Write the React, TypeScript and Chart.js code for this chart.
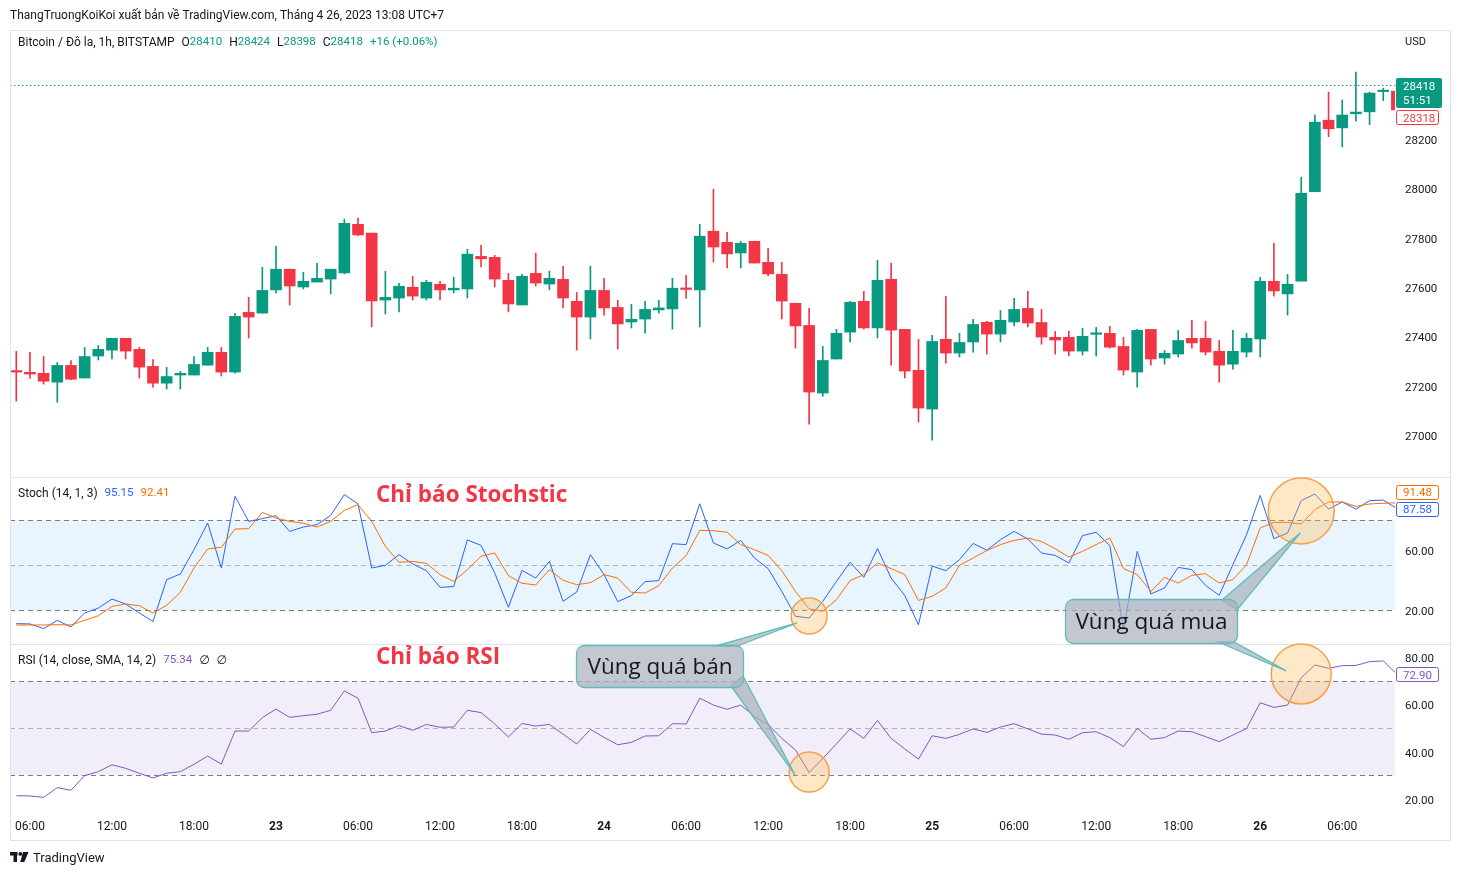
import React, { useEffect, useRef } from 'react';
import { Chart, registerables } from 'chart.js';

Chart.register(...registerables);

// ---------- DATA ----------
const openPrices = [
  27260, 27254, 27250, 27214, 27282, 27231, 27320, 27344, 27392, 27347,
  27278, 27210, 27243, 27243, 27283, 27335, 27255, 27497, 27494, 27588,
  27672, 27600, 27620, 27632, 27657, 27854, 27818, 27547, 27555, 27599,
  27555, 27611, 27588, 27592, 27724, 27720, 27627, 27527, 27655, 27612,
  27631, 27542, 27478, 27586, 27517, 27458, 27470, 27507, 27511, 27595,
  27588, 27826, 27781, 27738, 27785, 27700, 27651, 27534, 27444, 27170,
  27308, 27417, 27542, 27434, 27631, 27428, 27262, 27105, 27388, 27332,
  27377, 27457, 27409, 27458, 27513, 27456, 27396, 27396, 27340, 27408,
  27412, 27359, 27255, 27428, 27312, 27328, 27392, 27392, 27339, 27287,
  27336, 27389, 27623, 27572, 27624, 27986, 28276, 28245, 28302, 28310,
  28392, 28394,
];
const highPrices = [
  27339, 27335, 27318, 27294, 27302, 27355, 27363, 27392, 27392, 27355,
  27306, 27274, 27258, 27318, 27355, 27355, 27493, 27558, 27680, 27765,
  27672, 27659, 27696, 27672, 27875, 27879, 27818, 27664, 27615, 27643,
  27627, 27623, 27639, 27753, 27769, 27728, 27655, 27651, 27737, 27664,
  27684, 27578, 27684, 27635, 27546, 27530, 27542, 27546, 27635, 27647,
  27854, 27996, 27822, 27785, 27786, 27757, 27700, 27534, 27513, 27359,
  27428, 27542, 27582, 27708, 27696, 27428, 27388, 27404, 27562, 27412,
  27469, 27461, 27505, 27554, 27582, 27509, 27420, 27420, 27432, 27436,
  27440, 27396, 27428, 27428, 27343, 27424, 27465, 27461, 27383, 27424,
  27412, 27639, 27777, 27651, 28045, 28297, 28390, 28358, 28471, 28390,
  28406, 28400,
];
const lowPrices = [
  27137, 27230, 27206, 27133, 27224, 27231, 27304, 27308, 27308, 27231,
  27194, 27186, 27186, 27243, 27283, 27239, 27251, 27393, 27494, 27576,
  27527, 27592, 27620, 27572, 27653, 27807, 27438, 27490, 27499, 27547,
  27547, 27547, 27576, 27555, 27681, 27600, 27499, 27527, 27604, 27588,
  27515, 27344, 27389, 27486, 27348, 27434, 27413, 27494, 27429, 27555,
  27438, 27701, 27677, 27677, 27697, 27645, 27470, 27352, 27044, 27157,
  27308, 27377, 27429, 27393, 27283, 27231, 27052, 26979, 27291, 27316,
  27336, 27328, 27377, 27442, 27438, 27368, 27328, 27320, 27324, 27320,
  27352, 27243, 27194, 27283, 27287, 27316, 27352, 27324, 27214, 27267,
  27316, 27316, 27563, 27486, 27624, 27986, 28209, 28168, 28272, 28258,
  28355, 28310,
];
const closePrices = [
  27255, 27247, 27218, 27282, 27226, 27318, 27347, 27392, 27340, 27275,
  27210, 27237, 27250, 27286, 27335, 27255, 27481, 27478, 27586, 27672,
  27604, 27623, 27635, 27672, 27858, 27811, 27543, 27558, 27603, 27563,
  27619, 27588, 27595, 27733, 27714, 27632, 27531, 27643, 27616, 27635,
  27555, 27478, 27586, 27515, 27450, 27469, 27509, 27515, 27595, 27590,
  27806, 27762, 27734, 27777, 27697, 27653, 27543, 27442, 27174, 27302,
  27412, 27538, 27434, 27627, 27425, 27259, 27109, 27379, 27332, 27375,
  27448, 27409, 27465, 27509, 27454, 27397, 27385, 27340, 27400, 27411,
  27356, 27263, 27424, 27308, 27331, 27383, 27373, 27336, 27283, 27339,
  27392, 27623, 27584, 27611, 27980, 28268, 28241, 28297, 28309, 28386,
  28394, 28318,
];
const stochK = [
  10.9, 10.7, 7.6, 13.1, 8.7, 18.0, 21.3, 27.3, 24.0, 18.0,
  12.4, 40.2, 44.0, 60.2, 78.0, 48.0, 95.8, 79.1, 80.9, 82.9,
  72.4, 75.3, 76.9, 83.1, 96.9, 90.7, 48.0, 49.8, 56.9, 50.7,
  46.2, 35.1, 35.6, 66.7, 63.1, 44.7, 21.8, 46.4, 41.3, 52.4,
  25.8, 32.0, 56.9, 43.6, 25.6, 29.6, 38.9, 39.6, 64.2, 63.6,
  90.8, 64.7, 60.7, 66.4, 54.7, 47.6, 32.4, 15.8, 14.7, 25.8,
  39.1, 51.8, 41.8, 60.9, 41.3, 29.6, 10.2, 49.3, 46.2, 53.6,
  64.4, 59.8, 66.9, 72.4, 67.3, 58.0, 56.4, 51.3, 69.6, 71.8,
  62.9, 6.9, 59.1, 30.7, 34.7, 48.4, 46.9, 36.4, 29.8, 50.2,
  70.2, 96.4, 67.6, 71.3, 92.9, 97.3, 87.3, 92.0, 87.3, 92.9,
  93.3, 87.58,
];
const stochD = [
  10.0, 10.0, 10.0, 10.2, 10.0, 13.1, 16.2, 22.4, 24.0, 22.9,
  18.0, 23.1, 31.8, 48.0, 60.7, 61.8, 74.0, 74.2, 85.1, 81.3,
  79.1, 77.8, 75.3, 79.1, 86.4, 90.2, 79.1, 62.4, 51.8, 52.4,
  51.1, 43.6, 39.1, 46.9, 55.8, 58.0, 42.9, 37.8, 36.7, 46.9,
  39.8, 36.9, 38.2, 43.6, 41.3, 31.8, 31.3, 36.2, 48.0, 56.2,
  73.1, 72.9, 71.8, 63.6, 60.2, 56.4, 46.2, 32.4, 20.7, 19.1,
  26.9, 39.6, 43.6, 51.3, 47.6, 43.6, 26.4, 29.1, 34.7, 49.8,
  54.7, 59.6, 63.6, 66.4, 68.0, 65.6, 60.9, 55.3, 59.1, 63.6,
  68.0, 47.6, 43.6, 32.4, 41.8, 38.0, 43.1, 44.2, 38.0, 40.2,
  50.2, 74.7, 78.4, 78.4, 77.3, 86.9, 92.0, 92.0, 89.1, 90.7,
  91.1, 91.48,
];
const rsiValues = [
  21.4, 21.3, 20.7, 24.8, 23.7, 29.9, 31.6, 34.5, 33.0, 30.9,
  28.9, 30.9, 31.6, 34.7, 38.2, 34.8, 48.8, 48.8, 54.5, 58.1,
  54.6, 55.3, 55.9, 57.6, 65.8, 62.7, 48.1, 48.8, 51.1, 49.1,
  51.6, 50.4, 50.5, 57.6, 56.6, 51.8, 46.3, 52.0, 50.9, 51.6,
  47.5, 43.3, 49.5, 46.1, 43.0, 44.0, 46.7, 46.8, 51.9, 51.8,
  62.7, 59.8, 58.0, 59.8, 54.9, 51.6, 45.7, 40.8, 31.2, 37.2,
  43.4, 49.7, 45.7, 53.3, 45.7, 41.2, 36.9, 46.8, 45.7, 47.4,
  49.7, 48.2, 50.5, 51.9, 49.7, 47.5, 47.1, 45.3, 48.1, 48.5,
  46.0, 42.2, 49.9, 45.3, 46.0, 48.8, 48.5, 46.4, 44.3, 47.1,
  49.9, 60.8, 58.8, 59.8, 71.4, 76.8, 75.4, 76.5, 76.6, 78.2,
  78.5, 72.9,
];

const timeTickIndex = [1, 7, 13, 19, 25, 31, 37, 43, 49, 55, 61, 67, 73, 79, 85, 91, 97];
const timeTickLabels = ['06:00', '12:00', '18:00', '23', '06:00', '12:00', '18:00', '24', '06:00', '12:00', '18:00', '25', '06:00', '12:00', '18:00', '26', '06:00'];
const dayLabels = ['23', '24', '25', '26'];
const priceTicks = [27000, 27200, 27400, 27600, 27800, 28000, 28200];
const stochTicks = [20, 60];
const rsiTicks = [20, 40, 60, 80];
const stochLevels = [80, 50, 20];
const rsiLevels = [70, 50, 30];

const lastPrice = 28418;
const prevPrice = 28318;
const countdown = '51:51';
const stochLastK = 87.58;
const stochLastD = 91.48;
const rsiLast = 72.9;

const publisherText = 'ThangTruongKoiKoi xuất bản về TradingView.com, Tháng 4 26, 2023 13:08 UTC+7';
const symbolText = 'Bitcoin / Đô la, 1h, BITSTAMP';
const ohlcLetters = ['O', 'H', 'L', 'C'];
const ohlcValues = ['28410', '28424', '28398', '28418'];
const changeText = '+16 (+0.06%)';
const stochTitle = 'Stoch (14, 1, 3)';
const stochHeaderValues = ['95.15', '92.41'];
const rsiTitle = 'RSI (14, close, SMA, 14, 2)';
const rsiHeaderValue = '75.34';
const stochCaption = 'Chỉ báo Stochstic';
const rsiCaption = 'Chỉ báo RSI';
const oversoldText = 'Vùng quá bán';
const overboughtText = 'Vùng quá mua';

// annotation anchors (data index, indicator value)
const markerIndex = [58, 58, 94, 94];
const markerValue = [16, 31.4, 86, 73];

// ---------- STYLE ----------
const UP = '#089981';
const DOWN = '#f23645';
const TEXT = '#131722';
const BLUE = '#2962ff';
const ORANGE = '#ff6d00';
const PURPLE = '#7e57c2';
const BORDER = '#e0e3eb';
const UI = 'Roboto, "Noto Sans", "DejaVu Sans", sans-serif';
const F12 = `12px ${UI}`;
const FNUM = `11.5px ${UI}`;

function drawRow(ctx: any, x: number, y: number, parts: any[], font: string) {
  ctx.textBaseline = 'middle';
  ctx.textAlign = 'left';
  let cx = x;
  for (const p of parts) {
    cx += p.gap || 0;
    ctx.font = p.font || font;
    ctx.fillStyle = p.color;
    ctx.fillText(p.text, cx, y);
    cx += ctx.measureText(p.text).width;
  }
}

function axisLabel(ctx: any, text: string, y: number, color: string, h = 14) {
  ctx.save();
  ctx.beginPath();
  ctx.roundRect(1396.5, Math.round(y - h / 2) + 0.5, 42, h, 2);
  ctx.fillStyle = '#ffffff';
  ctx.fill();
  ctx.strokeStyle = color;
  ctx.lineWidth = 1;
  ctx.stroke();
  ctx.fillStyle = color;
  ctx.font = FNUM;
  ctx.textBaseline = 'middle';
  ctx.textAlign = 'left';
  ctx.fillText(text, 1403, y + 1.5);
  ctx.restore();
}

function drawCallout(ctx: any, box: any, text: string, pointers: any[]) {
  const fill = 'rgba(172,178,188,0.72)';
  const stroke = '#5fbcbc';
  ctx.save();
  ctx.lineWidth = 1.3;
  for (const p of pointers) {
    ctx.beginPath();
    ctx.moveTo(p.a[0], p.a[1]);
    ctx.lineTo(p.tip[0], p.tip[1]);
    ctx.lineTo(p.b[0], p.b[1]);
    ctx.closePath();
    ctx.fillStyle = fill;
    ctx.fill();
    ctx.strokeStyle = stroke;
    ctx.stroke();
  }
  ctx.beginPath();
  ctx.roundRect(box.x, box.y, box.w, box.h, 8);
  ctx.fillStyle = fill;
  ctx.fill();
  ctx.strokeStyle = stroke;
  ctx.stroke();
  ctx.fillStyle = TEXT;
  ctx.font = `22.5px "Open Sans", ${UI}`;
  ctx.textAlign = 'center';
  ctx.textBaseline = 'middle';
  ctx.fillText(text, box.x + box.w / 2, box.y + box.h / 2 + 1);
  ctx.restore();
}

const panesPlugin = {
  id: 'panes',
  beforeDatasetsDraw(chart: any) {
    const { ctx, chartArea, scales } = chart;
    const L = chartArea.left;
    const W = chartArea.right - chartArea.left;
    const ys = scales.yStoch;
    const yr = scales.yRsi;
    const yp = scales.yPrice;
    ctx.save();
    ctx.fillStyle = 'rgba(33,150,243,0.1)';
    const s1 = ys.getPixelForValue(stochLevels[0]);
    const s2 = ys.getPixelForValue(stochLevels[2]);
    ctx.fillRect(L, s1, W, s2 - s1);
    ctx.fillStyle = 'rgba(126,87,194,0.1)';
    const r1 = yr.getPixelForValue(rsiLevels[0]);
    const r2 = yr.getPixelForValue(rsiLevels[2]);
    ctx.fillRect(L, r1, W, r2 - r1);
    ctx.lineWidth = 1;
    ctx.setLineDash([5, 4]);
    const levels = [
      [ys, stochLevels], [yr, rsiLevels],
    ];
    for (const [sc, lv] of levels as any) {
      lv.forEach((v: number, k: number) => {
        const y = Math.round(sc.getPixelForValue(v)) + 0.5;
        ctx.strokeStyle = k === 1 ? 'rgba(120,123,134,0.55)' : '#787b86';
        ctx.beginPath();
        ctx.moveTo(L, y);
        ctx.lineTo(L + W, y);
        ctx.stroke();
      });
    }
    ctx.setLineDash([1.5, 2.5]);
    ctx.strokeStyle = UP;
    const py = Math.round(yp.getPixelForValue(lastPrice)) + 0.5;
    ctx.beginPath();
    ctx.moveTo(L, py);
    ctx.lineTo(L + W, py);
    ctx.stroke();
    ctx.restore();
  },
  afterDraw(chart: any) {
    const { ctx, scales } = chart;
    const xs = scales.x;
    const ys = scales.yStoch;
    const yr = scales.yRsi;
    const yp = scales.yPrice;
    ctx.save();

    // frame and pane separators
    ctx.strokeStyle = BORDER;
    ctx.lineWidth = 1;
    ctx.setLineDash([]);
    ctx.strokeRect(10.5, 30.5, 1440, 810);
    for (const y of [ys.top, yr.top]) {
      const yy = Math.round(y) + 0.5;
      ctx.beginPath();
      ctx.moveTo(10, yy);
      ctx.lineTo(1450, yy);
      ctx.stroke();
    }

    drawRow(ctx, 10, 15.5, [{ text: publisherText, color: TEXT }], F12);

    const hdr: any[] = [{ text: symbolText, color: TEXT }];
    ohlcLetters.forEach((l, k) => {
      hdr.push({ text: l, color: TEXT, gap: 7 });
      hdr.push({ text: ohlcValues[k], color: UP, font: FNUM });
    });
    hdr.push({ text: changeText, color: UP, gap: 7, font: FNUM });
    drawRow(ctx, 18, 42.5, hdr, F12);
    drawRow(ctx, 1405, 42, [{ text: 'USD', color: TEXT }], `11px ${UI}`);

    drawRow(ctx, 18, 493.5, [
      { text: stochTitle, color: TEXT },
      { text: stochHeaderValues[0], color: BLUE, gap: 7, font: FNUM },
      { text: stochHeaderValues[1], color: ORANGE, gap: 7, font: FNUM },
    ], F12);
    drawRow(ctx, 18, 660.5, [
      { text: rsiTitle, color: TEXT },
      { text: rsiHeaderValue, color: PURPLE, gap: 7, font: FNUM },
      { text: '∅', color: TEXT, gap: 7 },
      { text: '∅', color: TEXT, gap: 7 },
    ], F12);

    drawRow(ctx, 376, 496, [{ text: stochCaption, color: DOWN }], `bold 22.5px "Open Sans", ${UI}`);
    drawRow(ctx, 376, 658, [{ text: rsiCaption, color: DOWN }], `bold 22.5px "Open Sans", ${UI}`);

    // axis value labels
    const pY = yp.getPixelForValue(lastPrice);
    ctx.beginPath();
    ctx.roundRect(1396, Math.round(pY - 7), 46, 30, 2);
    ctx.fillStyle = UP;
    ctx.fill();
    ctx.fillStyle = '#ffffff';
    ctx.font = FNUM;
    ctx.textBaseline = 'middle';
    ctx.textAlign = 'left';
    ctx.fillText(String(lastPrice), 1403, pY + 2);
    ctx.fillText(countdown, 1403, pY + 16);
    axisLabel(ctx, String(prevPrice), pY + 32, DOWN);

    const kY = ys.getPixelForValue(stochLastK);
    axisLabel(ctx, stochLastK.toFixed(2), kY, BLUE);
    axisLabel(ctx, stochLastD.toFixed(2), kY - 17, ORANGE);
    axisLabel(ctx, rsiLast.toFixed(2), yr.getPixelForValue(rsiLast), PURPLE);

    // marker circles
    const panes = [ys, yr, ys, yr];
    const radii = [18, 20, 33, 30];
    const centers = markerIndex.map((i, k) => [xs.getPixelForValue(i), panes[k].getPixelForValue(markerValue[k])]);
    centers.forEach((c, k) => {
      ctx.beginPath();
      ctx.arc(c[0], c[1], radii[k], 0, Math.PI * 2);
      ctx.fillStyle = 'rgba(255,183,77,0.32)';
      ctx.fill();
      ctx.strokeStyle = '#f7a04b';
      ctx.lineWidth = 1.5;
      ctx.stroke();
    });

    // callouts
    const [c0, c1, c2, c3] = centers;
    drawCallout(ctx, { x: 576.5, y: 645.5, w: 167, h: 42 }, oversoldText, [
      { a: [716, 646], b: [737, 646], tip: [c0[0] - 12, c0[1] + 7] },
      { a: [731, 686], b: [743, 676], tip: [c1[0] - 14, c1[1] + 3] },
    ]);
    drawCallout(ctx, { x: 1065.5, y: 599.5, w: 172, h: 44 }, overboughtText, [
      { a: [1222, 600], b: [1237, 610], tip: [c2[0] - 1, c2[1] + 22] },
      { a: [1218, 642], b: [1234, 642], tip: [c3[0] - 15, c3[1] - 3] },
    ]);

    // TradingView logo + text
    ctx.fillStyle = TEXT;
    ctx.fillRect(10, 852, 7.5, 3.5);
    ctx.fillRect(13.5, 852, 3.5, 10);
    ctx.beginPath();
    ctx.arc(20.3, 853.9, 1.9, 0, Math.PI * 2);
    ctx.fill();
    ctx.beginPath();
    ctx.moveTo(23, 852);
    ctx.lineTo(28.5, 852);
    ctx.lineTo(24.3, 862);
    ctx.lineTo(20.3, 862);
    ctx.closePath();
    ctx.fill();
    drawRow(ctx, 33, 858.5, [{ text: 'TradingView', color: TEXT }], `13px ${UI}`);

    ctx.restore();
  },
};

function yAxis(weight: number, min: number, max: number, ticks: number[], fmt: (v: number) => string) {
  return {
    type: 'linear',
    position: 'right',
    stack: 'panes',
    stackWeight: weight,
    min,
    max,
    grid: { display: false, drawTicks: false },
    border: { display: false },
    afterFit: (s: any) => {
      s.width = 55;
    },
    afterBuildTicks: (s: any) => {
      s.ticks = ticks.map((v) => ({ value: v }));
    },
    ticks: { padding: 10, labelOffset: 2, color: TEXT, font: { family: UI, size: 11.5 }, callback: (v: any) => fmt(Number(v)) },
  };
}

export default function App() {
  const ref = useRef<HTMLCanvasElement>(null);
  useEffect(() => {
    const candleColors = closePrices.map((c, i) => (c >= openPrices[i] ? UP : DOWN));
    const chart = new Chart(ref.current as HTMLCanvasElement, {
      type: 'bar',
      data: {
        datasets: [
          {
            type: 'bar',
            label: 'wick',
            data: lowPrices.map((l, i) => ({ x: i, y: [l, highPrices[i]] })) as any,
            backgroundColor: candleColors,
            barThickness: 1,
            grouped: false,
            yAxisID: 'yPrice',
            xAxisID: 'x',
            order: 4,
          } as any,
          {
            type: 'bar',
            label: 'body',
            data: openPrices.map((o, i) => ({ x: i, y: [o, closePrices[i]] })) as any,
            backgroundColor: candleColors,
            barThickness: 11,
            minBarLength: 1.5,
            grouped: false,
            yAxisID: 'yPrice',
            xAxisID: 'x',
            order: 3,
          } as any,
          {
            type: 'line',
            label: '%K',
            data: stochK.map((v, i) => ({ x: i, y: v })) as any,
            borderColor: BLUE,
            borderWidth: 1,
            pointRadius: 0,
            tension: 0,
            yAxisID: 'yStoch',
            xAxisID: 'x',
            order: 2,
          } as any,
          {
            type: 'line',
            label: '%D',
            data: stochD.map((v, i) => ({ x: i, y: v })) as any,
            borderColor: ORANGE,
            borderWidth: 1,
            pointRadius: 0,
            tension: 0,
            yAxisID: 'yStoch',
            xAxisID: 'x',
            order: 1,
          } as any,
          {
            type: 'line',
            label: 'RSI',
            data: rsiValues.map((v, i) => ({ x: i, y: v })) as any,
            borderColor: PURPLE,
            borderWidth: 1,
            pointRadius: 0,
            tension: 0,
            yAxisID: 'yRsi',
            xAxisID: 'x',
            order: 1,
          } as any,
        ],
      },
      options: {
        responsive: false,
        animation: false,
        devicePixelRatio: 1,
        events: [],
        layout: { padding: { left: 10, top: 31, right: 10, bottom: 35 } },
        plugins: { legend: { display: false }, tooltip: { enabled: false } },
        scales: {
          x: {
            type: 'linear',
            position: 'bottom',
            offset: false,
            min: -0.46,
            max: 100.86,
            grid: { display: false, drawTicks: false, offset: false },
            border: { display: false },
            afterBuildTicks: (s: any) => {
              s.ticks = timeTickIndex.map((v) => ({ value: v }));
            },
            afterFit: (s: any) => {
              s.height = 28;
            },
            ticks: {
              autoSkip: false,
              maxRotation: 0,
              padding: 8,
              color: TEXT,
              font: (c: any) => ({
                family: UI,
                size: 12,
                weight: dayLabels.includes(timeTickLabels[c.index]) ? 'bold' : 'normal',
              }),
              callback: (_v: any, idx: number) => timeTickLabels[idx],
            },
          },
          yPrice: yAxis(446, 26829.6, 28637.7, priceTicks, (v) => String(v)),
          yStoch: yAxis(167, -2.67, 108.67, stochTicks, (v) => v.toFixed(2)),
          yRsi: yAxis(168, 14.49, 85.68, rsiTicks, (v) => v.toFixed(2)),
        },
      } as any,
      plugins: [panesPlugin],
    });
    return () => chart.destroy();
  }, []);
  return (
    <div style={{ position: 'absolute', left: 0, top: 0, width: 1460, height: 875, background: '#ffffff', overflow: 'hidden' }}>
      <canvas ref={ref} width={1460} height={875} style={{ display: 'block', width: 1460, height: 875 }} />
    </div>
  );
}
